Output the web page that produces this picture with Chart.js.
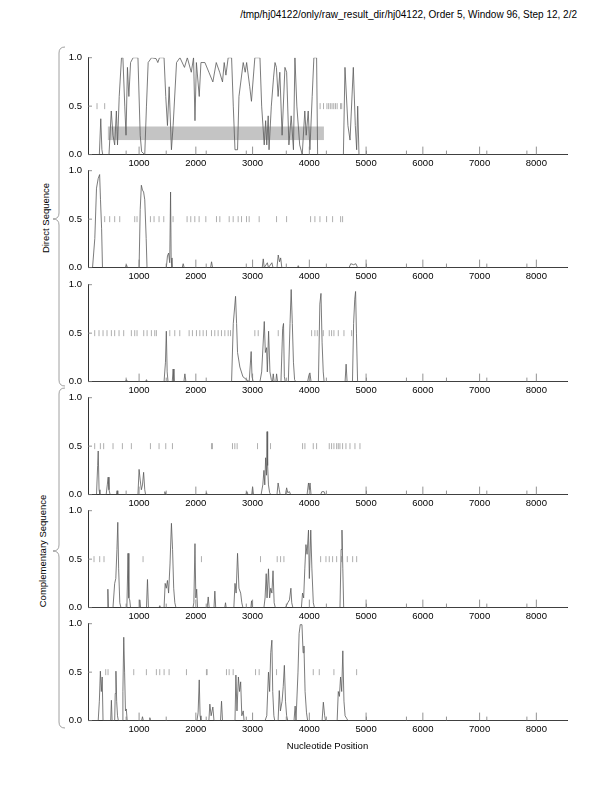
<!DOCTYPE html>
<html>
<head>
<meta charset="utf-8">
<script src="https://cdn.jsdelivr.net/npm/chart.js@4.4.0/dist/chart.umd.min.js"></script>
<style>
  body { margin: 0; background: #fff; width: 612px; height: 792px; position: relative; overflow: hidden;
         font-family: "Liberation Sans", Arial, sans-serif; }
  canvas { position: absolute; left: 0; }
  .txt { position: absolute; font-size: 9.5px; line-height: 11px; color: #000; white-space: nowrap; }
  .side { transform: translate(-50%, -50%) rotate(-90deg); }
</style>
</head>
<body>
<div class="txt" style="right:35px;top:8.5px;font-size:10px">/tmp/hj04122/only/raw_result_dir/hj04122, Order 5, Window 96, Step 12, 2/2</div>
<div class="txt side" style="left:45px;top:218px">Direct Sequence</div>
<div class="txt side" style="left:42px;top:551px">Complementary Sequence</div>
<svg width="612" height="792" style="position:absolute;left:0;top:0;pointer-events:none">
  <path d="M65,47 Q59,47 59,53 L59,213 Q59,219 53,219 Q59,219 59,225 L59,380 Q59,386 65,386" fill="none" stroke="#888" stroke-width="0.8"/>
  <path d="M65,388 Q59,388 59,394 L59,545 Q59,551 53,551 Q59,551 59,557 L59,722 Q59,728 65,728" fill="none" stroke="#888" stroke-width="0.8"/>
</svg>

<canvas id="p1"></canvas>
<canvas id="p2"></canvas>
<canvas id="p3"></canvas>
<canvas id="p4"></canvas>
<canvas id="p5"></canvas>
<canvas id="p6"></canvas>

<script>
// axis values
const xMin = 100, xMax = 8540;
const xTicks = [1000, 2000, 3000, 4000, 5000, 6000, 7000, 8000];
const minorTicks = [772, 1478, 2183, 2889, 3594, 4300, 5005, 5711, 6416, 7127, 7833];
const yTicks = [0, 0.5, 1.0];

// coding potential, one array per frame: [position, value]
const frame1 = [[100,0],[300,0],[325,0.37],[345,0.05],[360,0],[470,0],[510,0.45],[540,0.2],[570,0.1],[600,0.45],[620,0.1],[650,0.6],[690,1.0],[715,1.0],[748,0.5],[770,0.2],[795,0.9],[820,0.6],[850,0.95],[895,1.0],[980,1.0],[1020,0.2],[1045,0.03],[1100,0],[1130,0.5],[1160,0.95],[1220,1.0],[1300,0.99],[1330,0.95],[1360,1.0],[1440,1.0],[1470,0.6],[1500,0.3],[1530,0.7],[1570,0.05],[1600,0.3],[1660,0.95],[1720,1.0],[1800,0.9],[1850,1.0],[1920,0.85],[1960,1.0],[1985,0.35],[2010,0.95],[2060,0.6],[2090,0.95],[2160,0.95],[2230,0.85],[2300,0.75],[2360,0.95],[2420,0.85],[2470,0.75],[2500,0.95],[2530,0.82],[2570,1.0],[2630,1.0],[2660,0.5],[2690,0.05],[2735,0.05],[2760,0.6],[2835,0.95],[2870,0.85],[2895,0.95],[2950,0.7],[2980,0.55],[3040,1.0],[3130,1.0],[3160,0.5],[3205,0.1],[3230,0.35],[3250,0.1],[3275,0.4],[3290,0.05],[3330,0.5],[3370,0.8],[3395,0.95],[3420,0.9],[3450,0.6],[3480,0.85],[3520,0.2],[3570,0.9],[3600,0.85],[3640,0.1],[3680,0.4],[3720,0.05],[3746,1.0],[3780,0.5],[3830,0.1],[3875,0],[3920,0.45],[3945,0.2],[3980,0.45],[4010,0.05],[4050,0.6],[4080,1.0],[4128,1.0],[4146,0],[4600,0],[4628,0.9],[4680,0.3],[4717,0.15],[4775,0.9],[4810,0.3],[4834,0.05],[4852,0.5],[4875,0],[8540,0]];
const frame2 = [[100,0],[180,0],[220,0.3],[250,0.82],[280,0.92],[305,0.96],[320,0.7],[340,0.4],[355,0],[760,0],[777,0.03],[795,0],[1000,0],[1020,0.6],[1040,0.85],[1060,0.8],[1080,0.78],[1100,0.7],[1125,0.3],[1140,0],[1480,0],[1500,0.12],[1520,0.15],[1540,0.05],[1555,0.78],[1565,0.1],[1580,0],[1760,0],[1777,0.04],[1795,0],[2260,0],[2277,0.06],[2295,0],[3170,0],[3188,0.09],[3205,0],[3260,0.05],[3280,0],[3340,0.05],[3360,0],[3430,0],[3452,0.13],[3475,0.06],[3495,0.1],[3515,0],[3790,0],[3805,0.02],[3820,0],[4700,0],[4730,0.04],[4780,0.03],[4820,0.04],[4850,0],[8540,0]];
const frame3 = [[100,0],[760,0],[777,0.02],[795,0],[1115,0],[1130,0.02],[1145,0],[1440,0],[1465,0.2],[1480,0.52],[1495,0.1],[1510,0],[1585,0],[1600,0.13],[1615,0],[1790,0],[1807,0.08],[1825,0],[2630,0],[2660,0.6],[2700,0.88],[2718,0.6],[2735,0.3],[2776,0.15],[2830,0.05],[2894,0.02],[2940,0],[2975,0.31],[2990,0.05],[3010,0],[3130,0],[3160,0.1],[3206,0.62],[3225,0.3],[3247,0.35],[3260,0.1],[3282,0.52],[3306,0.1],[3330,0.02],[3350,0],[3364,0.08],[3380,0],[3410,0],[3423,0.08],[3440,0],[3500,0],[3530,0.55],[3545,0.6],[3560,0.05],[3575,0],[3630,0],[3660,0.6],[3680,0.95],[3700,0.6],[3720,0.2],[3740,0.02],[3760,0],[3970,0],[3990,0.06],[4010,0.09],[4030,0],[4160,0],[4185,0.8],[4205,0.91],[4225,0.4],[4245,0.1],[4260,0],[4630,0],[4648,0.18],[4665,0],[4760,0],[4780,0.6],[4800,0.85],[4815,0.93],[4830,0.5],[4850,0],[8540,0]];
const frame4 = [[100,0],[250,0],[270,0.3],[280,0.45],[295,0.05],[310,0],[420,0],[440,0.1],[455,0.18],[470,0.05],[490,0],[600,0],[612,0.04],[625,0],[980,0],[1000,0.26],[1020,0.15],[1040,0.05],[1060,0.1],[1080,0.23],[1100,0.05],[1115,0],[1440,0],[1454,0.03],[1470,0],[2175,0],[2188,0.02],[2200,0],[2880,0],[2900,0.03],[2920,0],[2985,0],[3000,0.08],[3015,0],[3150,0],[3180,0.1],[3200,0.25],[3215,0.1],[3230,0.38],[3245,0.2],[3255,0.65],[3265,0.3],[3280,0.1],[3300,0.02],[3320,0],[3430,0],[3450,0.12],[3470,0.05],[3485,0],[3580,0],[3600,0.07],[3620,0.02],[3650,0.03],[3670,0],[3960,0],[3985,0.12],[4000,0.05],[4012,0.12],[4030,0],[4200,0],[4220,0.03],[4260,0.03],[4280,0],[8540,0]];
const frame5 = [[100,0],[440,0],[450,0.19],[460,0],[540,0],[570,0.25],[590,0.3],[610,0.6],[625,0.88],[640,0.4],[660,0.05],[680,0],[785,0],[805,0.56],[820,0.1],[835,0.08],[850,0],[1000,0],[1012,0.08],[1025,0],[1130,0],[1148,0.29],[1165,0],[1350,0],[1365,0.02],[1380,0],[1440,0],[1460,0.25],[1480,0.2],[1500,0.28],[1520,0.15],[1545,0.45],[1570,0.87],[1590,0.6],[1610,0.2],[1630,0.05],[1650,0],[1950,0],[1965,0.05],[1985,0.66],[2000,0.1],[2015,0.19],[2030,0],[2200,0],[2218,0.11],[2235,0],[2320,0],[2335,0.17],[2350,0],[2510,0],[2523,0.05],[2535,0],[2670,0],[2690,0.25],[2710,0.15],[2735,0.56],[2760,0.2],[2790,0.15],[2810,0.05],[2830,0],[2970,0],[2982,0.07],[2995,0],[3200,0],[3220,0.1],[3240,0.35],[3255,0.1],[3280,0.4],[3300,0.1],[3320,0.2],[3340,0.15],[3360,0.38],[3380,0.05],[3400,0],[3580,0],[3620,0.05],[3650,0.08],[3675,0.2],[3690,0.05],[3710,0],[3860,0],[3880,0.15],[3900,0.1],[3920,0.4],[3940,0.65],[3960,0.55],[3985,0.8],[4000,0.3],[4025,0.8],[4045,0.4],[4070,0.05],[4090,0],[4540,0],[4560,0.6],[4575,0.8],[4590,0.4],[4605,0],[8540,0]];
const frame6 = [[100,0],[280,0],[300,0.2],[318,0.51],[335,0.3],[350,0.45],[365,0],[500,0],[512,0.21],[525,0],[570,0],[580,0.28],[592,0.51],[605,0.2],[620,0.05],[635,0],[700,0],[715,0.3],[730,0.86],[745,0.5],[760,0.1],[775,0.12],[790,0],[1045,0],[1060,0.04],[1075,0],[1180,0],[1190,0.03],[1200,0],[2020,0],[2040,0.08],[2060,0.42],[2075,0.05],[2090,0],[2230,0],[2247,0.17],[2270,0.05],[2300,0.14],[2320,0],[2435,0],[2453,0.2],[2470,0],[2690,0],[2706,0.47],[2725,0.1],[2750,0.45],[2770,0.3],[2790,0.4],[2810,0.05],[2835,0.1],[2850,0],[3220,0],[3250,0.05],[3280,0.5],[3300,0.3],[3320,0.7],[3340,0.83],[3355,0.3],[3375,0.05],[3390,0],[3450,0],[3470,0.31],[3490,0.1],[3520,0.2],[3540,0.35],[3560,0.57],[3580,0.2],[3600,0.05],[3620,0],[3730,0],[3750,0.15],[3765,0],[3780,0],[3800,0.5],[3820,0.9],[3840,0.99],[3870,0.99],[3890,0.7],[3905,0.77],[3925,0.3],[3950,0.08],[3970,0],[4225,0],[4247,0.19],[4270,0.05],[4285,0],[4490,0],[4510,0.3],[4530,0.25],[4550,0.45],[4570,0.3],[4590,0.72],[4610,0.2],[4630,0.05],[4660,0.02],[4680,0],[8540,0]];

// stop codon positions, drawn at 0.5
const stops1 = [259, 394, 4190, 4250, 4310, 4340, 4370, 4400, 4430, 4460, 4490, 4550, 4570];
const stops2 = [394, 482, 570, 659, 923, 964, 1200, 1264, 1352, 1435, 1599, 1846, 1911, 1982, 2058, 2176, 2364, 2423, 2588, 2658, 2746, 2805, 2893, 2940, 3116, 3422, 3599, 4022, 4098, 4187, 4304, 4410, 4551, 4586];
const stops3 = [218, 294, 365, 435, 512, 570, 647, 729, 864, 923, 964, 1082, 1141, 1217, 1276, 1305, 1541, 1629, 1717, 1882, 1940, 2011, 2070, 2129, 2187, 2276, 2334, 2393, 2452, 2511, 2570, 2611, 3040, 3099, 3452, 4040, 4098, 4140, 4246, 4351, 4392, 4433, 4510, 4610, 4745];
const stops4 = [218, 318, 376, 541, 706, 864, 1200, 1352, 1470, 1588, 2276, 2293, 2646, 2687, 2728, 3087, 3316, 3881, 3922, 4069, 4128, 4351, 4392, 4433, 4481, 4510, 4539, 4586, 4645, 4716, 4804, 4892];
const stops5 = [206, 306, 382, 1070, 2099, 3140, 3434, 3493, 3552, 4199, 4293, 4351, 4410, 4481, 4569, 4669, 4763, 4834];
const stops6 = [412, 453, 906, 1129, 1305, 1364, 1441, 1529, 1835, 2187, 2199, 2540, 2587, 2658, 3052, 3116, 3422, 4069, 4175, 4433, 4833];

// shaded region on the first panel: [x0, x1, y0, y1]
const box1 = [450, 4257, 0.15, 0.29];

const frames = [frame1, frame2, frame3, frame4, frame5, frame6];
const stops = [stops1, stops2, stops3, stops4, stops5, stops6];
const plotTops = [55.5, 169.3, 282.7, 395.7, 509.3, 622];
const plotH = 98.6;
const padTop = 10;

const innerTicks = {
  id: "innerTicks",
  afterDraw(chart) {
    const { ctx, chartArea, scales: { x, y } } = chart;
    ctx.save();
    ctx.strokeStyle = "#777";
    ctx.lineWidth = 0.8;
    ctx.beginPath();
    xTicks.forEach(v => {
      const px = x.getPixelForValue(v);
      ctx.moveTo(px, chartArea.bottom);
      ctx.lineTo(px, chartArea.bottom - 8);
    });
    minorTicks.forEach(v => {
      const px = x.getPixelForValue(v);
      ctx.moveTo(px, chartArea.bottom);
      ctx.lineTo(px, chartArea.bottom - 4);
    });
    yTicks.forEach(v => {
      const py = y.getPixelForValue(v);
      ctx.moveTo(chartArea.left, py);
      ctx.lineTo(chartArea.left + 4, py);
    });
    ctx.stroke();
    ctx.restore();
  },
};

const shadedBox = {
  id: "shadedBox",
  beforeDatasetsDraw(chart, args, opts) {
    if (!opts.box) return;
    const { ctx, scales: { x, y } } = chart;
    const [x0, x1, y0, y1] = opts.box;
    const left = x.getPixelForValue(x0), right = x.getPixelForValue(x1);
    const top = y.getPixelForValue(y1), bottom = y.getPixelForValue(y0);
    ctx.save();
    ctx.fillStyle = "#c4c4c4";
    ctx.fillRect(left, top, right - left, bottom - top);
    ctx.restore();
  },
};

frames.forEach((frame, i) => {
  const last = i === frames.length - 1;
  const axisH = last ? 31.4 : 14.4;
  const canvas = document.getElementById("p" + (i + 1));
  const h = padTop + plotH + axisH;
  canvas.width = 612;
  canvas.height = Math.round(h);
  canvas.style.top = (plotTops[i] - padTop) + "px";

  new Chart(canvas, {
    type: "line",
    data: {
      datasets: [
        {
          data: frame.map(([x, y]) => ({ x, y })),
          borderColor: "#5a5a5a",
          borderWidth: 0.8,
          pointRadius: 0,
          tension: 0,
        },
        {
          data: stops[i].map(x => ({ x, y: 0.5 })),
          showLine: false,
          pointStyle: "line",
          rotation: 90,
          pointRadius: 3,
          borderColor: "#9a9a9a",
          borderWidth: 0.8,
        },
      ],
    },
    options: {
      responsive: false,
      animation: false,
      events: [],
      layout: { padding: { left: 58, right: 45, top: padTop, bottom: 0 } },
      scales: {
        x: {
          type: "linear",
          min: xMin,
          max: xMax,
          afterBuildTicks: s => { s.ticks = xTicks.map(v => ({ value: v })); },
          afterFit: s => { s.height = axisH; },
          grid: { display: false, drawTicks: false },
          border: { display: true, color: "#333", width: 1 },
          ticks: {
            padding: 3,
            color: "#000",
            maxRotation: 0,
            autoSkip: false,
            font: { family: "Liberation Sans", size: 9.5 },
            callback: v => String(v),
          },
          title: {
            display: last,
            text: "Nucleotide Position",
            color: "#000",
            padding: 0,
            font: { family: "Liberation Sans", size: 9.5 },
          },
        },
        y: {
          min: 0,
          max: 1,
          afterBuildTicks: s => { s.ticks = yTicks.map(v => ({ value: v })); },
          afterFit: s => { s.width = 30; },
          grid: { display: false, drawTicks: false },
          border: { display: true, color: "#333", width: 1 },
          ticks: {
            padding: 6,
            color: "#000",
            font: { family: "Liberation Sans", size: 9.5 },
            callback: v => Number(v).toFixed(1),
          },
        },
      },
      plugins: {
        legend: { display: false },
        tooltip: { enabled: false },
        shadedBox: { box: i === 0 ? box1 : null },
      },
    },
    plugins: [shadedBox, innerTicks],
  });
});
</script>
</body>
</html>
